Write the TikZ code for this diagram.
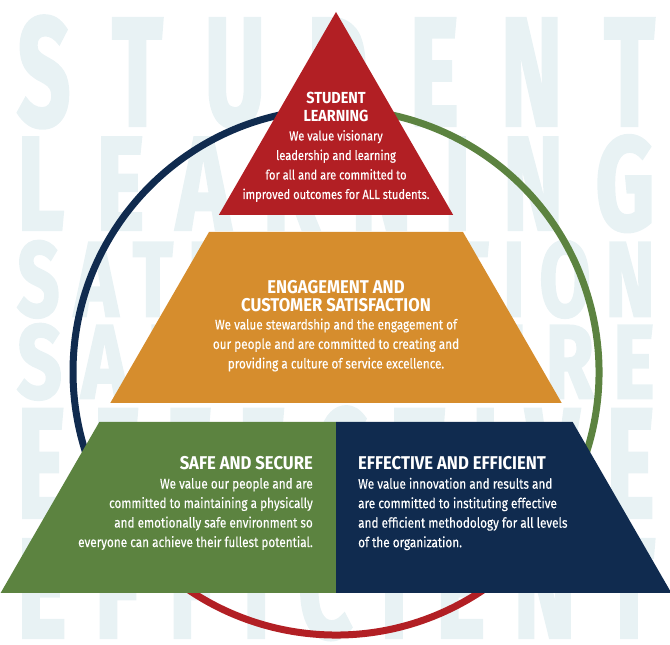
\documentclass[tikz,border=0pt]{standalone}
\usepackage{fontspec}
\usepackage{tikz}
\usetikzlibrary{calc}
\newfontfamily\pyrfont[FakeStretch=0.84, FakeBold=0.3]{Fira Sans}
\newfontfamily\headfont[FakeStretch=0.9]{Fira Sans}
\newfontfamily\bgfont[FakeBold=2.5]{Fira Sans}
\definecolor{slred}{HTML}{B21F24}
\definecolor{ecorange}{HTML}{D68D2D}
\definecolor{ssgreen}{HTML}{5C8340}
\definecolor{eenavy}{HTML}{102B4F}
\definecolor{bgletter}{HTML}{E8F2F4}
\newcommand{\spreadword}[3]{\resizebox{637pt}{#1}{\spaceskip=#2\relax #3}}
\tikzset{every picture/.append style={x=1pt, y=1pt}}
\tikzset{bgrow/.style={anchor=south west, inner sep=0pt, text=bgletter, font=\bgfont\bfseries}}
\tikzset{ring/.style={line width=7pt, #1}}
\tikzset{heading/.style={text=white, inner sep=0pt, font=\headfont\bfseries\fontsize{#1}{18.5}\selectfont}}
\tikzset{blurb/.style={text=white, inner sep=0pt, font=\pyrfont\fontsize{#1}{19.5}\selectfont}}
\tikzset{heading/.default=18.5}
\tikzset{blurb/.default=14}

\begin{document}
\begin{tikzpicture}
  \useasboundingbox (0,0) rectangle (670,645);

  % big pale words behind
  \node (bg1) at (17,517)[bgrow]{\spreadword{109pt}{0.45em}{S T U D E N T}};
  \node (bg2) at (17,413)[bgrow]{\spreadword{94pt}{0.35em}{L E A R N I N G}};
  \node (bg3) at (17,327)[bgrow]{\spreadword{75pt}{0.2em}{S A T I S F A C T I O N}};
  \node (bg4) at (17,245)[bgrow]{\spreadword{74pt}{0.25em}{S A F E \ S E C U R E}};
  \node (bg5) at (17,125)[bgrow]{\spreadword{110pt}{0.3em}{E F F E C T I V E}};
  \node (bg6) at (17,5)[bgrow]{\spreadword{100pt}{0.3em}{E F F I C I E N T}};

  % the ring
  \coordinate (c) at (336,273);
  \draw[ring=eenavy] ($(c)+(90:263)$) arc[start angle=90, end angle=210, radius=263];
  \draw[ring=slred] ($(c)+(210:263)$) arc[start angle=210, end angle=330, radius=263];
  \draw[ring=ssgreen] ($(c)+(330:263)$) arc[start angle=330, end angle=450, radius=263];

  % pyramid
  \fill[slred] (336,633) -- (453.2,430) -- (218.8,430) -- cycle;
  \fill[ecorange] (209,413) -- (463,413) -- (561.7,242) -- (110.3,242) -- cycle;
  \fill[ssgreen] (99.3,223) -- (336,223) -- (336,52) -- (0.6,52) -- cycle;
  \fill[eenavy] (336,223) -- (572.7,223) -- (671.4,52) -- (336,52) -- cycle;

  \node (sl-head) at (336,538)[heading=16, align=center]{STUDENT\\LEARNING};
  \node (sl-text) at (336,479)[blurb=13.2, align=center]{We value visionary\\leadership and learning\\for all and are committed to\\improved outcomes for ALL students.};

  \node (ec-head) at (336,349)[heading, align=center]{ENGAGEMENT AND\\CUSTOMER SATISFACTION};
  \node (ec-text) at (336,300)[blurb, align=center]{We value stewardship and the engagement of\\our people and are committed to creating and\\providing a culture of service excellence.};

  \node (ss-head) at (313,181.5)[heading, anchor=east]{SAFE AND SECURE};
  \node (ss-text) at (313,131)[blurb, anchor=east, align=right]{We value our people and are\\committed to maintaining a physically\\and emotionally safe environment so\\everyone can achieve their fullest potential.};

  \node (ee-head) at (358,181.5)[heading, anchor=west]{EFFECTIVE AND EFFICIENT};
  \node (ee-text) at (358,131)[blurb, anchor=west, align=left]{We value innovation and results and\\are committed to instituting effective\\and efficient methodology for all levels\\of the organization.};
\end{tikzpicture}
\end{document}
